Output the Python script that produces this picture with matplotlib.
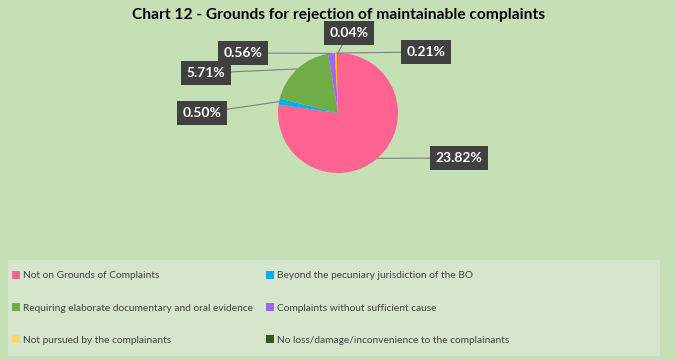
import numpy as np
import matplotlib.pyplot as plt
from matplotlib.patches import Patch, Rectangle

plt.rcParams['font.family'] = ['Lato', 'DejaVu Sans']

categories = ['Not on Grounds of Complaints',
              'Beyond the pecuniary jurisdiction of the BO',
              'Requiring elaborate documentary and oral evidence',
              'Complaints without sufficient cause',
              'Not pursued by the complainants',
              'No loss/damage/inconvenience to the complainants']
values = [23.82, 0.50, 5.71, 0.56, 0.21, 0.04]
colors = ['#ff6392', '#00b0f0', '#70ad47', '#9f65ff', '#ffc000', '#375623']
legend_colors = ['#ff6392', '#00b0f0', '#70ad47', '#9f65ff', '#ffd966', '#375623']

# label box positions in pixels (x, y from top)
label_pos = [(459, 158), (202, 113), (206, 73), (243, 53), (426, 52), (349, 33)]

W, H = 676, 360
fig = plt.figure(figsize=(W / 100, H / 100), dpi=100)
fig.patch.set_facecolor('#c5e0b4')
ax = fig.add_axes([0, 0, 1, 1])

cx, cy, r = 338, H - 113, 60
wedges, _ = ax.pie(values, colors=colors, startangle=90, counterclock=False,
                   center=(cx, cy), radius=r, frame=True,
                   wedgeprops=dict(linewidth=0))
ax.set_xlim(0, W)
ax.set_ylim(0, H)
ax.set_aspect('auto')
ax.axis('off')

for w, v, (lx, ly) in zip(wedges, values, label_pos):
    ang = np.deg2rad((w.theta1 + w.theta2) / 2)
    px, py = cx + r * np.cos(ang), cy + r * np.sin(ang)
    ax.annotate(f'{v:.2f}%', xy=(px, py), xytext=(lx, H - ly),
                ha='center', va='center', fontsize=10, fontweight='bold',
                color='white',
                bbox=dict(boxstyle='square,pad=0.4', fc='#404040', ec='none'),
                arrowprops=dict(arrowstyle='-', color='#7f7f7f', lw=0.8,
                                shrinkA=0, shrinkB=0))

fig.text(0.5, 1 - 15 / H, 'Chart 12 - Grounds for rejection of maintainable complaints',
         ha='center', va='center', fontsize=11.2, fontweight='bold')

# legend background box
ax.add_patch(Rectangle((8, 4), 652, 96, facecolor='#d6e6cc', edgecolor='none', zorder=0))

handles = [Patch(facecolor=c, edgecolor='none') for c in legend_colors]
order = [0, 2, 4, 1, 3, 5]
leg = fig.legend([handles[i] for i in order], [categories[i] for i in order],
                 ncol=2, loc='upper left', bbox_to_anchor=(9 / W, 1 - 268 / H),
                 fontsize=7.3, frameon=False,
                 handlelength=0.8, handleheight=0.8, handletextpad=0.25,
                 labelspacing=2.25, columnspacing=1.3, borderaxespad=0, borderpad=0.3)
for t in leg.get_texts():
    t.set_color('#404040')

fig.savefig('out.png', dpi=100, facecolor=fig.get_facecolor())
